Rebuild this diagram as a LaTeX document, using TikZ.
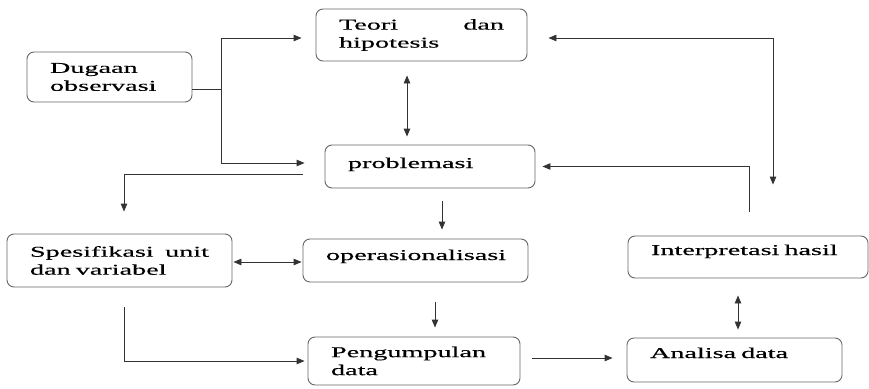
\documentclass[tikz,border=0pt]{standalone}
\usepackage{fontspec}
\setmainfont[FakeStretch=1.88,FakeBold=0.4]{Liberation Serif}
\usetikzlibrary{arrows.meta}
\definecolor{linegray}{gray}{0.2}
\definecolor{boxgray}{gray}{0.4}

\begin{document}
\begin{tikzpicture}[x=1pt,y=-1pt,
	box/.style={draw=boxgray, line width=0.9pt, rounded corners=7pt, align=left, inner xsep=23pt, inner ysep=0pt, font=\fontsize{15}{18}\selectfont},
	arr/.style={draw=linegray, line width=0.9pt, -{Triangle[length=8pt,width=6.5pt]}},
	dbl/.style={draw=linegray, line width=0.9pt, {Triangle[length=8pt,width=6.5pt]}-{Triangle[length=8pt,width=6.5pt]}}]
	\useasboundingbox (0,0) rectangle (869,388);
	\node[box, text width=119pt, minimum height=50pt] (dugaan) at (109.5,77) {Dugaan\\observasi};
	\node[box, text width=165pt, minimum height=52pt] (teori) at (421.5,35) {Teori\hfill dan\\hipotesis};
	\node[box, text width=164pt, minimum height=43pt, text height=11pt, text depth=8pt] (problemasi) at (430,166.5) {problemasi};
	\node[box, text width=179pt, minimum height=53pt] (spes) at (119.5,260.5) {Spesifikasi\hfill unit\\dan variabel};
	\node[box, text width=179pt, minimum height=43pt, text height=11pt, text depth=12pt] (operas) at (415.5,260.5) {operasionalisasi};
	\node[box, text width=166pt, minimum height=48pt] (peng) at (414,361) {Pengumpulan\\data};
	\node[box, text width=169pt, minimum height=44pt, text height=11pt, text depth=15pt] (analisa) at (734.5,360) {Analisa data};
	\node[box, text width=194pt, minimum height=42pt, text height=11pt, text depth=15pt] (interp) at (748,257) {Interpretasi hasil};
	\draw[arr] ([yshift=-12pt]dugaan.east) -- ++(29pt,0) coordinate (split) |- ([xshift=-14pt,yshift=-3pt]teori.west);
	\draw[arr] (split) |- ([xshift=-20pt,yshift=3.5pt]problemasi.west);
	\draw[dbl] ([xshift=-14.5pt,yshift=-14pt]teori.south) -- ([xshift=-23pt,yshift=8pt]problemasi.north);
	\draw[dbl] ([xshift=21pt,yshift=-3pt]teori.east) -| ([xshift=25pt,yshift=51pt]interp.north);
	\draw[arr] ([xshift=1pt,yshift=24pt]interp.north) |- ([xshift=7pt]problemasi.east);
	\draw[arr] ([xshift=-22pt,yshift=-7.5pt]problemasi.west) -| ([xshift=4.5pt,yshift=22pt]spes.north);
	\draw[arr] ([xshift=12pt,yshift=-13pt]problemasi.south) coordinate (a) -- ([yshift=9pt]operas.north -| a);
	\draw[dbl] ([xshift=1pt,yshift=-1.5pt]spes.east) -- ([xshift=-1pt,yshift=-1.5pt]operas.west);
	\draw[arr] ([xshift=19.5pt,yshift=-20pt]operas.south) coordinate (b) -- ([yshift=9pt]peng.north -| b);
	\draw[arr] ([xshift=4.5pt,yshift=-20pt]spes.south) |- ([xshift=-3pt]peng.west);
	\draw[arr] ([xshift=12pt,yshift=3pt]peng.east) coordinate (c) -- ([xshift=-14pt]analisa.west |- c);
	\draw[dbl] ([xshift=-10pt,yshift=-17pt]interp.south) coordinate (d) -- ([yshift=8pt]analisa.north -| d);
\end{tikzpicture}
\end{document}
